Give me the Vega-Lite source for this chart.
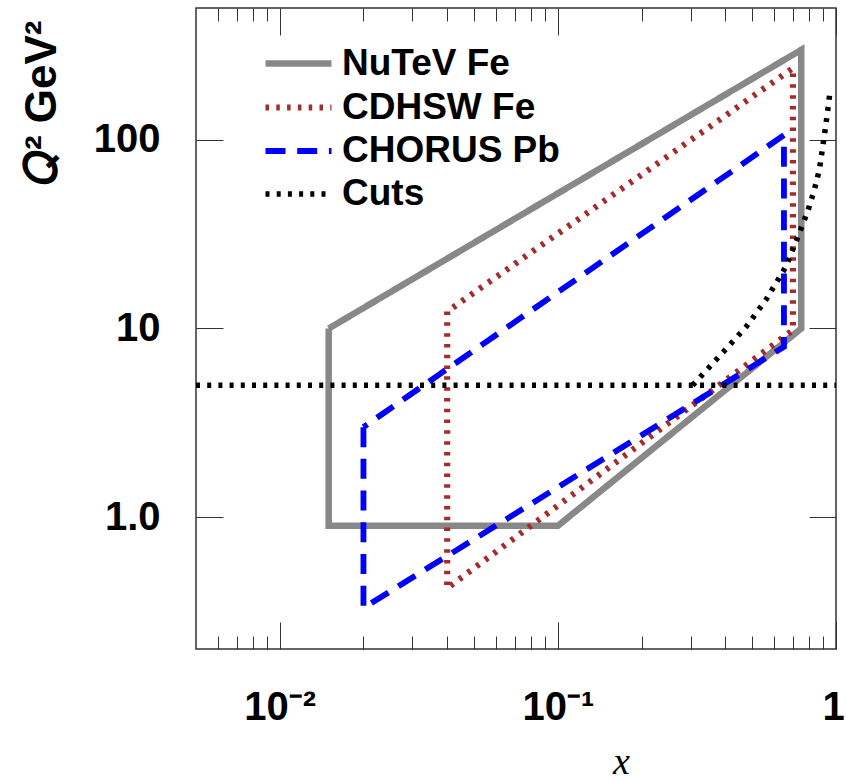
{
  "$schema": "https://vega.github.io/schema/vega-lite/v6.json",
  "width": 640,
  "height": 641,
  "autosize": {"type": "none"},
  "padding": {"left": 196, "top": 8, "right": 10, "bottom": 131},
  "background": "white",
  "config": {"view": {"stroke": "#333333", "strokeWidth": 1.5}, "font": "Liberation Sans"},
  "data": {"values": [
    {"s": "NuTeV Fe", "p": "nutev", "i": 0, "x": 0.015, "y": 10},
    {"s": "NuTeV Fe", "p": "nutev", "i": 1, "x": 0.015, "y": 0.9},
    {"s": "NuTeV Fe", "p": "nutev", "i": 2, "x": 0.1, "y": 0.9},
    {"s": "NuTeV Fe", "p": "nutev", "i": 3, "x": 0.75, "y": 10},
    {"s": "NuTeV Fe", "p": "nutev", "i": 4, "x": 0.75, "y": 300},
    {"s": "NuTeV Fe", "p": "nutev", "i": 5, "x": 0.015, "y": 10},
    {"s": "CDHSW Fe", "p": "cdhsw", "i": 0, "x": 0.04, "y": 12.3},
    {"s": "CDHSW Fe", "p": "cdhsw", "i": 1, "x": 0.04, "y": 0.42},
    {"s": "CDHSW Fe", "p": "cdhsw", "i": 2, "x": 0.7, "y": 9.8},
    {"s": "CDHSW Fe", "p": "cdhsw", "i": 3, "x": 0.7, "y": 240},
    {"s": "CDHSW Fe", "p": "cdhsw", "i": 4, "x": 0.04, "y": 12.3},
    {"s": "CHORUS Pb", "p": "chorus", "i": 0, "x": 0.02, "y": 3},
    {"s": "CHORUS Pb", "p": "chorus", "i": 1, "x": 0.02, "y": 0.33},
    {"s": "CHORUS Pb", "p": "chorus", "i": 2, "x": 0.65, "y": 8},
    {"s": "CHORUS Pb", "p": "chorus", "i": 3, "x": 0.65, "y": 106},
    {"s": "CHORUS Pb", "p": "chorus", "i": 4, "x": 0.02, "y": 3},
    {"s": "Cuts", "p": "cutq", "i": 0, "x": 0.005, "y": 5},
    {"s": "Cuts", "p": "cutq", "i": 1, "x": 1, "y": 5},
    {"s": "Cuts", "p": "cutw", "i": 0, "x": 0.305, "y": 5.0},
    {"s": "Cuts", "p": "cutw", "i": 1, "x": 0.38, "y": 7.1},
    {"s": "Cuts", "p": "cutw", "i": 2, "x": 0.475, "y": 10.2},
    {"s": "Cuts", "p": "cutw", "i": 3, "x": 0.56, "y": 14.2},
    {"s": "Cuts", "p": "cutw", "i": 4, "x": 0.661, "y": 21.3},
    {"s": "Cuts", "p": "cutw", "i": 5, "x": 0.718, "y": 28.9},
    {"s": "Cuts", "p": "cutw", "i": 6, "x": 0.791, "y": 41.7},
    {"s": "Cuts", "p": "cutw", "i": 7, "x": 0.836, "y": 54.3},
    {"s": "Cuts", "p": "cutw", "i": 8, "x": 0.871, "y": 69.3},
    {"s": "Cuts", "p": "cutw", "i": 9, "x": 0.896, "y": 92},
    {"s": "Cuts", "p": "cutw", "i": 10, "x": 0.921, "y": 122.6},
    {"s": "Cuts", "p": "cutw", "i": 11, "x": 0.941, "y": 156.7},
    {"s": "Cuts", "p": "cutw", "i": 12, "x": 0.953, "y": 185}
  ]},
  "resolve": {"axis": {"x": "independent", "y": "independent"}},
  "layer": [
    {
      "mark": {"type": "line", "strokeCap": "butt", "strokeJoin": "miter", "clip": true},
      "encoding": {
        "x": {
          "field": "x", "type": "quantitative",
          "scale": {"type": "log", "domain": [0.005, 1], "nice": false},
          "axis": {
            "orient": "bottom",
            "values": [0.006, 0.007, 0.008, 0.009, 0.01, 0.02, 0.03, 0.04, 0.05, 0.06, 0.07, 0.08, 0.09, 0.1, 0.2, 0.3, 0.4, 0.5, 0.6, 0.7, 0.8, 0.9, 1],
            "labelExpr": "datum.value == 0.01 ? '10⁻²' : datum.value == 0.1 ? '10⁻¹' : datum.value == 1 ? '1' : ''",
            "tickSize": {"condition": {"test": "datum.value == 0.01 || datum.value == 0.1 || datum.value == 1", "value": -27}, "value": -13},
            "labelOffset": {"condition": {"test": "datum.value == 1", "value": -3}, "value": 0},
            "tickColor": "#333333", "tickWidth": 1,
            "domain": false, "grid": false,
            "labelFont": "Liberation Sans", "labelFontWeight": "bold", "labelFontSize": 40, "labelColor": "black",
            "labelFlush": false, "labelOverlap": false, "labelPadding": 97, "labelBaseline": "alphabetic",
            "title": "x", "titleFont": "Liberation Serif", "titleFontStyle": "italic", "titleFontWeight": "normal",
            "titleFontSize": 38, "titleColor": "black", "titleX": 425, "titleY": 124, "titleAlign": "center", "titleBaseline": "alphabetic"
          }
        },
        "y": {
          "field": "y", "type": "quantitative",
          "scale": {"type": "log", "domain": [0.2, 500], "nice": false},
          "axis": {
            "orient": "left",
            "values": [1, 10, 100],
            "labelExpr": "datum.value == 1 ? '1.0' : datum.value == 10 ? '10' : '100'",
            "tickSize": -27, "tickColor": "#333333", "tickWidth": 1,
            "domain": false, "grid": false,
            "labelFont": "Liberation Sans", "labelFontWeight": "bold", "labelFontSize": 40, "labelColor": "black",
            "labelFlush": false, "labelOverlap": false, "labelPadding": 63, "labelBaseline": "middle",
            "title": "𝑄²  GeV²", "titleFont": "Liberation Sans", "titleFontWeight": "bold", "titleFontSize": 44, "titleColor": "black",
            "titleX": -141, "titleY": 12, "titleAlign": "right", "titleAngle": -90, "titleBaseline": "alphabetic"
          }
        },
        "detail": {"field": "p", "type": "nominal"},
        "order": {"field": "i", "type": "quantitative"},
        "color": {
          "field": "s", "type": "nominal",
          "scale": {"domain": ["NuTeV Fe", "CDHSW Fe", "CHORUS Pb", "Cuts"], "range": ["#888888", "#a52a2a", "#0000ff", "#000000"]},
          "legend": {
            "orient": "none", "legendX": 77, "legendY": 30, "title": null, "padding": 0,
            "symbolType": "M-1.5,0H1.5", "symbolSize": 1936,
            "labelFont": "Liberation Sans", "labelFontWeight": "bold", "labelFontSize": 37, "labelColor": "black",
            "labelOffset": 18, "rowPadding": 0, "labelBaseline": "middle", "labelLimit": 500
          }
        },
        "strokeDash": {
          "field": "s", "type": "nominal",
          "scale": {"domain": ["NuTeV Fe", "CDHSW Fe", "CHORUS Pb", "Cuts"], "range": [[1, 0], [3.5, 7.3], [20, 11.7], [4, 7.2]]},
          "legend": {
            "orient": "none", "legendX": 77, "legendY": 30, "title": null, "padding": 0,
            "symbolType": "M-1.5,0H1.5", "symbolSize": 1936,
            "labelFont": "Liberation Sans", "labelFontWeight": "bold", "labelFontSize": 37, "labelColor": "black",
            "labelOffset": 18, "rowPadding": 0, "labelBaseline": "middle", "labelLimit": 500
          }
        },
        "strokeWidth": {
          "field": "s", "type": "nominal",
          "scale": {"domain": ["NuTeV Fe", "CDHSW Fe", "CHORUS Pb", "Cuts"], "range": [6.5, 5.5, 6.5, 5.5]},
          "legend": {
            "orient": "none", "legendX": 77, "legendY": 30, "title": null, "padding": 0,
            "symbolType": "M-1.5,0H1.5", "symbolSize": 1936,
            "labelFont": "Liberation Sans", "labelFontWeight": "bold", "labelFontSize": 37, "labelColor": "black",
            "labelOffset": 18, "rowPadding": 0, "labelBaseline": "middle", "labelLimit": 500
          }
        }
      }
    },
    {
      "mark": {"type": "point", "opacity": 0},
      "encoding": {
        "x": {
          "field": "x", "type": "quantitative",
          "scale": {"type": "log", "domain": [0.005, 1], "nice": false},
          "axis": {
            "orient": "top",
            "values": [0.006, 0.007, 0.008, 0.009, 0.01, 0.02, 0.03, 0.04, 0.05, 0.06, 0.07, 0.08, 0.09, 0.1, 0.2, 0.3, 0.4, 0.5, 0.6, 0.7, 0.8, 0.9, 1],
            "tickSize": {"condition": {"test": "datum.value == 0.01 || datum.value == 0.1 || datum.value == 1", "value": -27}, "value": -13},
            "tickColor": "#333333", "tickWidth": 1,
            "labels": false, "domain": false, "grid": false, "title": null
          }
        },
        "y": {
          "field": "y", "type": "quantitative",
          "scale": {"type": "log", "domain": [0.2, 500], "nice": false},
          "axis": {
            "orient": "right",
            "values": [1, 10, 100],
            "tickSize": -27, "tickColor": "#333333", "tickWidth": 1,
            "labels": false, "domain": false, "grid": false, "title": null
          }
        }
      }
    }
  ]
}
